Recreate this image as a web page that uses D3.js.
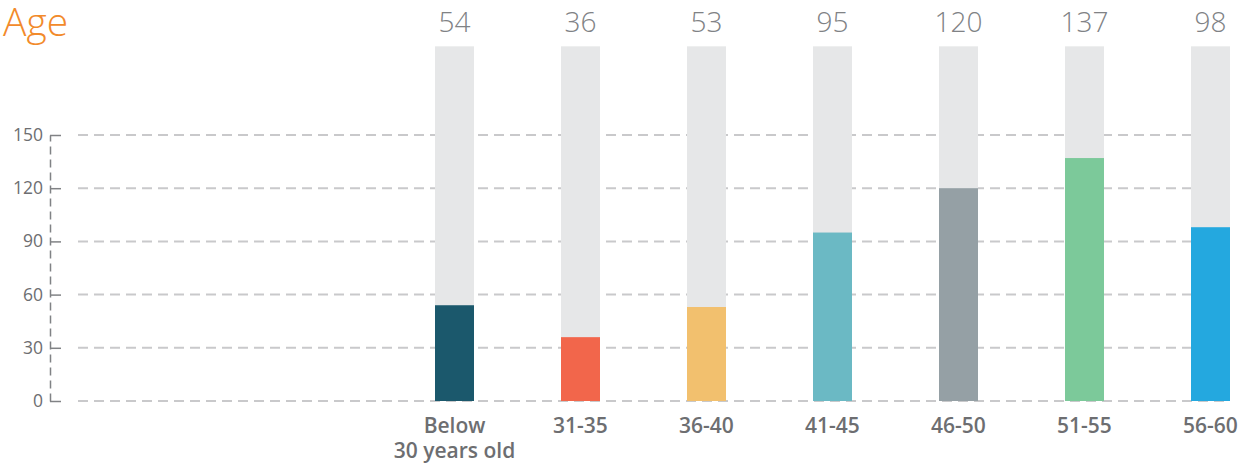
<!DOCTYPE html>
<html>
<head>
<meta charset="utf-8">
<script src="https://cdn.jsdelivr.net/npm/d3@7"></script>
<style>
  html, body { margin: 0; padding: 0; background: #fff; }
  svg { display: block; }
</style>
</head>
<body>
<svg id="chart" width="1259" height="468"></svg>
<script>
// Age distribution: headcount per age group, drawn against a fixed 200 track
const categories = ["Below\n30 years old", "31-35", "36-40", "41-45", "46-50", "51-55", "56-60"];
const values = [54, 36, 53, 95, 120, 137, 98];
const trackMax = 200;
const yTicks = [0, 30, 60, 90, 120, 150];
const barColors = ["#1b586c", "#f2664b", "#f2c06e", "#6bb9c4", "#95a0a5", "#7cc99a", "#24a8df"];

const svg = d3.select("#chart");

const y = d3.scaleLinear().domain([0, 150]).range([401, 135]);
const x = d3.scalePoint().domain(categories).range([454.5, 1210.5]);
const barW = 39;

// Title
svg.append("text")
  .attr("x", 3).attr("y", 36)
  .attr("font-family", "'Open Sans', sans-serif")
  .attr("font-weight", 300)
  .attr("font-size", 39)
  .attr("fill", "#f28a2b")
  .text("Age");

// Dashed gridlines
svg.append("g").selectAll("line").data(yTicks).join("line")
  .attr("x1", 78).attr("x2", 1230)
  .attr("y1", d => y(d)).attr("y2", d => y(d))
  .attr("stroke", "#c9c9cb").attr("stroke-width", 2)
  .attr("stroke-dasharray", "10,6");

// Y axis with ticks pointing into the plot
const yAxis = d3.axisRight(y).tickValues(yTicks).tickSize(11).tickSizeOuter(0).tickFormat("");
const gAxis = svg.append("g").attr("transform", "translate(50,0)").call(yAxis);
gAxis.select(".domain")
  .attr("stroke", "#808285").attr("stroke-width", 1.5)
  .attr("stroke-dasharray", "8,5");
gAxis.selectAll(".tick line").attr("stroke", "#808285").attr("stroke-width", 1.5);

// Tick labels
svg.append("g").selectAll("text").data(yTicks).join("text")
  .attr("x", 43).attr("y", d => y(d) + 6)
  .attr("text-anchor", "end")
  .attr("font-family", "'Open Sans', sans-serif")
  .attr("font-size", 17.5)
  .attr("fill", "#6d6e71")
  .text(d => d);

// Background tracks
svg.append("g").selectAll("rect").data(categories).join("rect")
  .attr("x", d => x(d) - barW / 2)
  .attr("width", barW)
  .attr("y", y(trackMax))
  .attr("height", y(0) - y(trackMax))
  .attr("fill", "#e6e7e8");

// Value bars
svg.append("g").selectAll("rect").data(values).join("rect")
  .attr("x", (d, i) => x(categories[i]) - barW / 2)
  .attr("width", barW)
  .attr("y", d => y(d))
  .attr("height", d => y(0) - y(d))
  .attr("fill", (d, i) => barColors[i]);

// Value labels above tracks
svg.append("g").selectAll("text").data(values).join("text")
  .attr("x", (d, i) => x(categories[i]))
  .attr("y", 32)
  .attr("text-anchor", "middle")
  .attr("font-family", "'Open Sans', sans-serif")
  .attr("font-weight", 300)
  .attr("font-size", 28)
  .attr("fill", "#808285")
  .text(d => d);

// Category labels
const cat = svg.append("g").selectAll("text").data(categories).join("text")
  .attr("x", d => x(d))
  .attr("y", 433)
  .attr("text-anchor", "middle")
  .attr("font-family", "'Open Sans', sans-serif")
  .attr("font-weight", 600)
  .attr("font-size", 21)
  .attr("fill", "#6d6e71");
cat.each(function(d) {
  const lines = d.split("\n");
  d3.select(this).selectAll("tspan").data(lines).join("tspan")
    .attr("x", x(d))
    .attr("dy", (l, i) => i === 0 ? 0 : 25)
    .text(l => l);
});
</script>
</body>
</html>
